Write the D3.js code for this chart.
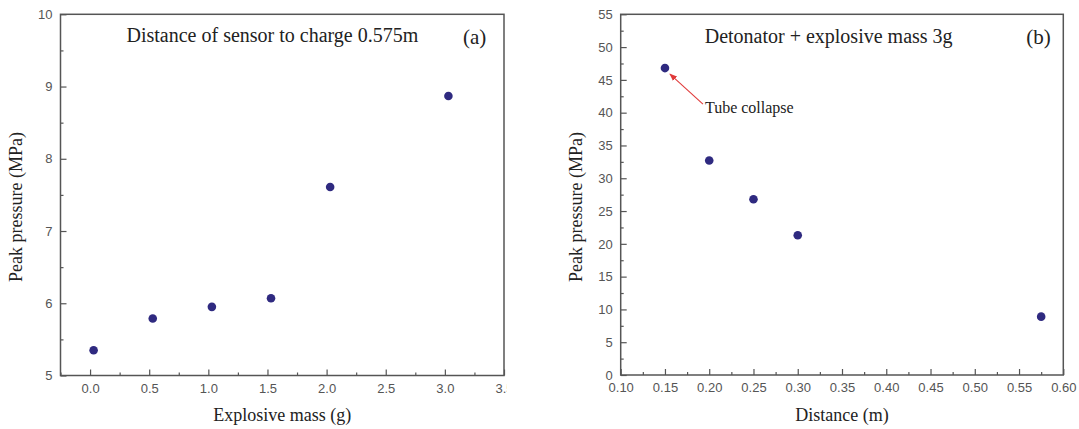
<!DOCTYPE html>
<html>
<head>
<meta charset="utf-8">
<script src="https://cdn.jsdelivr.net/npm/d3@7"></script>
<style>
  body { margin: 0; background: #fff; }
  svg { display: block; }
  .tick text { font-family: "Liberation Sans", Arial, sans-serif; font-size: 13px; fill: #555; }
  .tick line { stroke: #555; stroke-width: 1.2; }
  .serif { font-family: "Liberation Serif", "Times New Roman", serif; fill: #222; }
</style>
</head>
<body>
<svg id="chart" width="1079" height="429"></svg>
<script>
// panel (a): peak pressure vs explosive mass
const massX = [0.03, 0.53, 1.03, 1.53, 2.03, 3.03];
const massPressure = [5.35, 5.79, 5.95, 6.07, 7.61, 8.87];
const massTicks = [0, 0.5, 1.0, 1.5, 2.0, 2.5, 3.0, 3.5];
const massMinor = [-0.25, 0.25, 0.75, 1.25, 1.75, 2.25, 2.75, 3.25];
const pressATicks = [5, 6, 7, 8, 9, 10];
const pressAMinor = [5.5, 6.5, 7.5, 8.5, 9.5];

// panel (b): peak pressure vs distance
const distX = [0.15, 0.20, 0.25, 0.30, 0.575];
const distPressure = [46.8, 32.7, 26.8, 21.3, 8.9];
const distTicks = [0.10, 0.15, 0.20, 0.25, 0.30, 0.35, 0.40, 0.45, 0.50, 0.55, 0.60];
const distMinor = [0.125, 0.175, 0.225, 0.275, 0.325, 0.375, 0.425, 0.475, 0.525, 0.575];
const pressBTicks = [0, 5, 10, 15, 20, 25, 30, 35, 40, 45, 50, 55];
const pressBMinor = [2.5, 7.5, 12.5, 17.5, 22.5, 27.5, 32.5, 37.5, 42.5, 47.5, 52.5];

const svg = d3.select("#chart");
svg.append("rect").attr("width", 1079).attr("height", 429).attr("fill", "#fff");

const defs = svg.append("defs");
defs.append("marker")
    .attr("id", "arrow")
    .attr("viewBox", "0 0 10 10")
    .attr("refX", 9).attr("refY", 5)
    .attr("markerWidth", 7).attr("markerHeight", 7)
    .attr("orient", "auto")
  .append("path")
    .attr("d", "M0,1 L10,5 L0,9 Z")
    .attr("fill", "#e03a3a");

function drawPanel(cfg) {
    const x = d3.scaleLinear().domain(cfg.xDomain).range([cfg.left, cfg.right]);
    const y = d3.scaleLinear().domain(cfg.yDomain).range([cfg.bottom, cfg.top]);
    const g = svg.append("g");

    // x axis, ticks pointing inward
    const xg = g.append("g")
        .attr("transform", `translate(0,${cfg.bottom})`)
        .call(d3.axisBottom(x).tickValues(cfg.xTicks).tickSize(-6).tickSizeOuter(0)
            .tickPadding(8).tickFormat(cfg.xFormat))
        .call(a => a.select(".domain").remove());
    if (cfg.clipRight) {
        // the last label is cut off at the panel edge in the original
        const clipId = "clip-" + cfg.name;
        defs.append("clipPath").attr("id", clipId)
          .append("rect").attr("x", 0).attr("y", -20).attr("width", cfg.clipRight).attr("height", 60);
        xg.attr("clip-path", `url(#${clipId})`);
    }
    g.append("g")
        .attr("transform", `translate(0,${cfg.bottom})`)
        .call(d3.axisBottom(x).tickValues(cfg.xMinor).tickSize(-3).tickSizeOuter(0).tickFormat(""))
        .call(a => a.select(".domain").remove());

    // y axis
    g.append("g")
        .attr("transform", `translate(${cfg.left},0)`)
        .call(d3.axisLeft(y).tickValues(cfg.yTicks).tickSize(-6).tickSizeOuter(0)
            .tickPadding(8).tickFormat(d3.format("d")))
        .call(a => a.select(".domain").remove());
    g.append("g")
        .attr("transform", `translate(${cfg.left},0)`)
        .call(d3.axisLeft(y).tickValues(cfg.yMinor).tickSize(-3).tickSizeOuter(0).tickFormat(""))
        .call(a => a.select(".domain").remove());

    // frame
    g.append("rect")
        .attr("x", cfg.left).attr("y", cfg.top)
        .attr("width", cfg.right - cfg.left).attr("height", cfg.bottom - cfg.top)
        .attr("fill", "none").attr("stroke", "#555").attr("stroke-width", 1.5);

    // points
    g.selectAll("circle.pt")
        .data(cfg.xs.map((v, i) => [v, cfg.ys[i]]))
        .enter().append("circle")
        .attr("class", "pt")
        .attr("cx", d => x(d[0]))
        .attr("cy", d => y(d[1]))
        .attr("r", 4.3)
        .attr("fill", "#2f2a80");

    // labels
    g.append("text").attr("class", "serif")
        .attr("x", (cfg.left + cfg.right) / 2).attr("y", 421)
        .attr("text-anchor", "middle").attr("font-size", 18)
        .text(cfg.xLabel);
    g.append("text").attr("class", "serif")
        .attr("transform", `translate(${cfg.left - 39},207) rotate(-90)`)
        .attr("text-anchor", "middle").attr("font-size", 18)
        .text("Peak pressure (MPa)");
    g.append("text").attr("class", "serif")
        .attr("x", cfg.left + cfg.titleDx).attr("y", cfg.titleY)
        .attr("font-size", 20)
        .text(cfg.title);
    g.append("text").attr("class", "serif")
        .attr("x", cfg.right - cfg.tagDx).attr("y", 44)
        .attr("font-size", 21)
        .text(cfg.tag);

    return { x, y, g };
}

drawPanel({
    name: "a",
    left: 60.5, right: 504, top: 14.3, bottom: 375.5,
    xDomain: [-0.25, 3.5], yDomain: [5, 10],
    xTicks: massTicks, xMinor: massMinor, yTicks: pressATicks, yMinor: pressAMinor,
    xFormat: d3.format(".1f"), clipRight: 507,
    xs: massX, ys: massPressure,
    xLabel: "Explosive mass (g)",
    title: "Distance of sensor to charge 0.575m", titleDx: 66, titleY: 41.5,
    tag: "(a)", tagDx: 41
});

const b = drawPanel({
    name: "b",
    left: 620.7, right: 1063.3, top: 14.3, bottom: 375,
    xDomain: [0.10, 0.60], yDomain: [0, 55],
    xTicks: distTicks, xMinor: distMinor, yTicks: pressBTicks, yMinor: pressBMinor,
    xFormat: d3.format(".2f"),
    xs: distX, ys: distPressure,
    xLabel: "Distance (m)",
    title: "Detonator + explosive mass 3g", titleDx: 84, titleY: 42.5,
    tag: "(b)", tagDx: 37
});

// annotation: tube collapse at the first point
const px = b.x(distX[0]), py = b.y(distPressure[0]);
b.g.append("line")
    .attr("x1", px + 38).attr("y1", py + 36)
    .attr("x2", px + 5).attr("y2", py + 6)
    .attr("stroke", "#e03a3a").attr("stroke-width", 1.1)
    .attr("marker-end", "url(#arrow)");
b.g.append("text").attr("class", "serif")
    .attr("x", px + 40).attr("y", py + 45)
    .attr("font-size", 16)
    .text("Tube collapse");
</script>
</body>
</html>
